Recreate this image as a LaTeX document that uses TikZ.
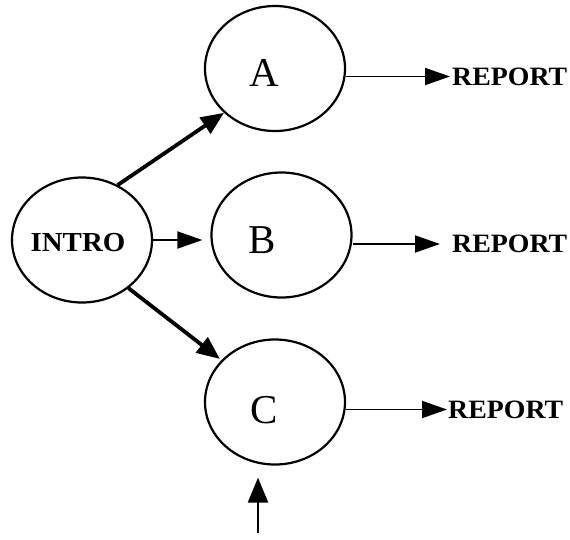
\documentclass[tikz,border=0pt]{standalone}
\usepackage{fontspec}
\setmainfont{Liberation Serif}
\newfontfamily\labelbold[FakeStretch=1.05]{Liberation Serif Bold}
\usetikzlibrary{arrows.meta,shapes.geometric}
\begin{document}
\begin{tikzpicture}[x=1pt,y=-1pt,
  stage/.style={ellipse,draw,line width=2.2pt,minimum width=140pt,minimum height=125pt,inner sep=0pt},
  letter/.style={font=\fontsize{41}{41}\selectfont},
  outlabel/.style={anchor=west,inner sep=0pt,font=\labelbold\fontsize{26.5}{27}\selectfont},
  thin arrow/.style={line width=1.9pt,-{Triangle[length=25pt,width=17pt]}},
  thick arrow/.style={line width=3.8pt,-{Triangle[length=23pt,width=19pt]}}]
\useasboundingbox (0,0) rectangle (570,539);

% stages
\node[stage] (intro) at (82,240) {};
\node[font=\labelbold\fontsize{27.5}{28}\selectfont] at (78,243) {INTRO};
\node[stage] (a) at (275,68.5) {};
\node[letter] at (264,73) {A};
\node[stage] (b) at (281.5,235) {};
\node[letter] at (262,240) {B};
\node[stage] (c) at (275,402) {};
\node[letter] at (264,410) {C};

% outputs
\node[outlabel] (ra) at (452,76.5) {REPORT};
\node[outlabel] (rb) at (452,244) {REPORT};
\node[outlabel] (rc) at (448,409.5) {REPORT};

% incoming input below C
\coordinate (input) at (258,533);

% connectors
\draw[thick arrow] (intro.57) -- (a.221);
\draw[thin arrow,shorten >=8pt] (intro.east) -- (b.west |- intro.east);
\draw[thick arrow,shorten >=2pt] (intro.314) -- (c.142);
\draw[thin arrow,shorten >=2pt] (a.east |- ra.west) -- (ra.west);
\draw[thin arrow,shorten >=12pt] (b.east |- rb.west) -- (rb.west);
\draw[thin arrow,shorten >=1pt] (c.east |- rc.west) -- (rc.west);
\draw[line width=2.2pt,-{Triangle[length=25pt,width=20pt]},shorten >=12pt] (input) -- (input |- c.south);
\end{tikzpicture}
\end{document}
